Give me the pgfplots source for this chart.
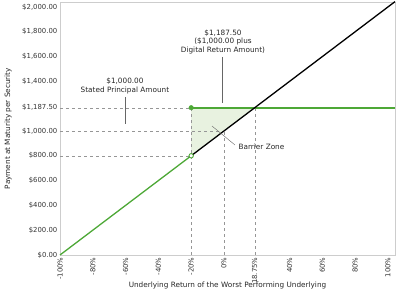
\documentclass[border=0pt]{standalone}
\usepackage{pgfplots}
\pgfplotsset{compat=1.18}
\usepackage{fontspec}
\setmainfont{DejaVu Sans}
\definecolor{pgreen}{RGB}{77,168,54}
\definecolor{pshade}{RGB}{232,242,224}
\definecolor{pdash}{RGB}{150,150,150}
\definecolor{pframe}{RGB}{205,205,205}
\begin{document}
\fontsize{7.3}{8.3}\selectfont
\begin{tikzpicture}
\path[use as bounding box] (-60pt,-39pt) rectangle (338pt,255pt);
\begin{axis}[
  scale only axis, width=335pt, height=253pt,
  xmin=-100, xmax=104.3, ymin=0, ymax=2040,
  axis line style={pframe},
  major tick length=0pt,
  xtick={-100,-80,-60,-40,-20,0,18.75,40,60,80,100},
  xticklabels={-100\%,-80\%,-60\%,-40\%,-20\%,0\%,18.75\%,40\%,60\%,80\%,100\%},
  xticklabel style={rotate=90, anchor=east, font=\fontsize{6.9}{8}\selectfont, text=black!80},
  ytick={0,200,400,600,800,1000,1187.5,1400,1600,1800,2000},
  yticklabels={{\$0.00},{\$200.00},{\$400.00},{\$600.00},{\$800.00},{\$1,000.00},{\$1,187.50},{\$1,400.00},{\$1,600.00},{\$1,800.00},{\$2,000.00}},
  yticklabel style={font=\fontsize{6.9}{8}\selectfont, text=black!80},
  xlabel={Underlying Return of the Worst Performing Underlying},
  ylabel={Payment at Maturity per Security},
  label style={font=\fontsize{7.3}{8.3}\selectfont, text=black!85},
  xlabel style={at={(axis description cs:0.5,0)}, anchor=north, yshift=-24pt},
  ylabel style={at={(axis description cs:-0.155,0.5)}, anchor=center},
  clip=false,
]
% shaded barrier zone
\addplot[fill=pshade, draw=none] coordinates {(-20,800) (-20,1187.5) (18.75,1187.5) (-20,800)};
% dashed guides
\addplot[pdash, dashed, thin] coordinates {(-100,1187.5) (-20,1187.5)};
\addplot[pdash, dashed, thin] coordinates {(-100,1000) (0,1000)};
\addplot[pdash, dashed, thin] coordinates {(-100,800) (-20,800)};
\addplot[pdash, dashed, thin] coordinates {(-20,0) (-20,1187.5)};
\addplot[pdash, dashed, thin] coordinates {(0,0) (0,1000)};
\addplot[pdash, dashed, thin] coordinates {(18.75,0) (18.75,1187.5)};
% payoff lines
\addplot[draw=pgreen, line width=1.7pt] coordinates {(-20,1187.5) (104.2,1187.5)};
\addplot[draw=pgreen, line width=1.3pt] coordinates {(-100,0) (-20,800)};
\addplot[draw=black, line width=1.3pt] coordinates {(-20,800) (104.3,2043)};
\addplot[only marks, mark=*, mark size=2.3pt, color=pgreen] coordinates {(-20,1187.5)};
\addplot[only marks, mark=*, mark size=2.2pt, draw=pgreen, fill=white, line width=0.9pt] coordinates {(-20,800)};
% annotations
\node[align=center, text=black!85] at (axis cs:-0.6,1718) {\$1,187.50\\(\$1,000.00 plus\\Digital Return Amount)};
\draw[black!60, thin] (axis cs:-1,1597) -- (axis cs:-1,1226);
\node[align=center, text=black!85] at (axis cs:-60.4,1363) {\$1,000.00\\Stated Principal Amount};
\draw[black!60, thin] (axis cs:-60.4,1274) -- (axis cs:-60.4,1056);
\node[anchor=west, text=black!85] at (axis cs:7.3,871) {Barrier Zone};
\draw[black!60, thin] (axis cs:-7.3,1040) -- (axis cs:6.7,887);
\end{axis}
\end{tikzpicture}
\end{document}
